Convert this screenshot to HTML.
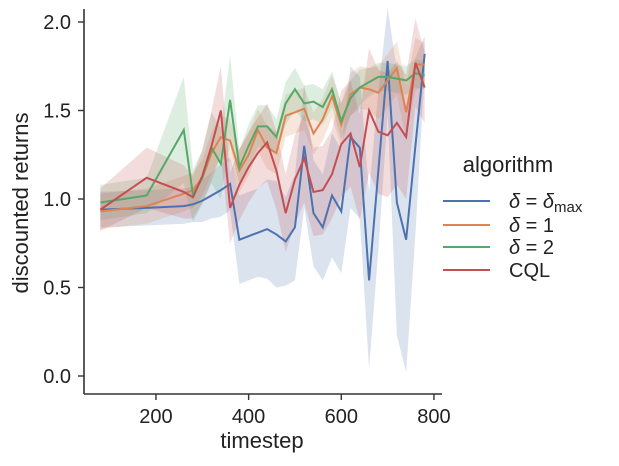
<!DOCTYPE html>
<html><head><meta charset="utf-8"><style>
html,body{margin:0;padding:0;background:#fff;}
svg{display:block;font-family:"Liberation Sans",Arial,sans-serif;}
</style></head><body>
<svg id="chart" width="619" height="466" viewBox="0 0 619 466">
<g id="bands"></g>
<g id="lines"></g>
<g id="axes"></g>
<text x="262" y="448" font-size="22" text-anchor="middle" fill="#222">timestep</text>
<text transform="translate(28,203) rotate(-90)" font-size="22" text-anchor="middle" fill="#222">discounted returns</text>
<g font-size="20" fill="#222">
<text x="508" y="172" text-anchor="middle" font-size="22">algorithm</text>
<g><line x1="443" y1="201" x2="490" y2="201" stroke="#4c72b0" stroke-width="2"/><text x="509" y="208"><tspan font-style="italic">δ</tspan> = <tspan font-style="italic">δ</tspan><tspan font-size="15" dy="4">max</tspan></text></g>
<g><line x1="443" y1="225" x2="490" y2="225" stroke="#dd8452" stroke-width="2"/><text x="509" y="232"><tspan font-style="italic">δ</tspan> = 1</text></g>
<g><line x1="443" y1="247" x2="490" y2="247" stroke="#55a868" stroke-width="2"/><text x="509" y="254"><tspan font-style="italic">δ</tspan> = 2</text></g>
<g><line x1="443" y1="270" x2="490" y2="270" stroke="#c44e52" stroke-width="2"/><text x="509" y="277">CQL</text></g>
</g>
</svg>
<script>
const timesteps=[80,180,260,280,300,320,340,360,380,400,420,440,460,480,500,520,540,560,580,600,620,640,660,680,700,720,740,760,780];
const blueVals=[0.94,0.95,0.96,0.97,0.99,1.02,1.05,1.085,0.77,0.79,0.81,0.83,0.80,0.76,0.84,1.30,0.92,0.84,1.02,0.93,1.35,1.29,0.54,1.16,1.78,0.98,0.77,1.30,1.82];
const blueCi=[0.1,0.1,0.1,0.1,0.12,0.13,0.15,0.15,0.25,0.25,0.25,0.28,0.3,0.25,0.3,0.35,0.3,0.3,0.35,0.35,0.4,0.4,0.5,0.45,0.3,0.75,0.75,0.5,0.1];
const orangeVals=[0.93,0.96,1.03,1.05,1.12,1.26,1.35,1.33,1.16,1.25,1.39,1.29,1.26,1.47,1.49,1.51,1.37,1.45,1.58,1.42,1.59,1.63,1.62,1.60,1.67,1.74,1.49,1.76,1.76];
const orangeCi=[0.1,0.1,0.1,0.1,0.1,0.12,0.12,0.12,0.12,0.12,0.12,0.12,0.12,0.12,0.12,0.12,0.12,0.12,0.12,0.12,0.12,0.12,0.12,0.15,0.15,0.15,0.15,0.15,0.12];
const greenVals=[0.98,1.02,1.39,1.02,1.12,1.29,1.20,1.56,1.18,1.30,1.41,1.41,1.35,1.54,1.62,1.54,1.55,1.52,1.62,1.44,1.57,1.63,1.66,1.69,1.69,1.68,1.67,1.71,1.70];
const greenCi=[0.1,0.1,0.3,0.15,0.15,0.2,0.2,0.25,0.1,0.12,0.12,0.12,0.1,0.12,0.12,0.1,0.1,0.1,0.1,0.1,0.1,0.1,0.08,0.08,0.08,0.08,0.08,0.08,0.08];
const redVals=[0.94,1.12,1.04,1.01,1.13,1.30,1.50,0.95,1.08,1.18,1.26,1.32,1.16,0.92,1.11,1.23,1.04,1.05,1.14,1.31,1.37,1.18,1.50,1.38,1.36,1.43,1.35,1.77,1.63];
const redCi=[0.12,0.17,0.15,0.12,0.15,0.2,0.25,0.2,0.2,0.2,0.2,0.22,0.22,0.22,0.25,0.25,0.25,0.25,0.25,0.3,0.3,0.3,0.35,0.35,0.35,0.35,0.35,0.25,0.2];
const yTicks=[0.0,0.5,1.0,1.5,2.0];
const xTicks=[200,400,600,800];
const yTickLabels=["0.0","0.5","1.0","1.5","2.0"];
const xTickLabels=["200","400","600","800"];

const NS="http://www.w3.org/2000/svg";
function xs(t){return 63.3+0.4633*t;}
function ys(v){return 376-177*v;}
const series=[
 {name:"delta-max",vals:blueVals,ci:blueCi,color:"#4c72b0"},
 {name:"delta-1",vals:orangeVals,ci:orangeCi,color:"#dd8452"},
 {name:"delta-2",vals:greenVals,ci:greenCi,color:"#55a868"},
 {name:"cql",vals:redVals,ci:redCi,color:"#c44e52"}
];
const bands=document.getElementById('bands'),lines=document.getElementById('lines'),axes=document.getElementById('axes');
series.forEach(s=>{
 let up=timesteps.map((t,i)=>xs(t)+","+ys(s.vals[i]+s.ci[i]));
 let lo=timesteps.map((t,i)=>xs(t)+","+ys(s.vals[i]-s.ci[i])).reverse();
 const b=document.createElementNS(NS,'polygon');
 b.setAttribute('points',up.concat(lo).join(' '));
 b.setAttribute('fill',s.color);b.setAttribute('fill-opacity','0.2');
 
 
 bands.appendChild(b);
 const l=document.createElementNS(NS,'polyline');
 l.setAttribute('points',timesteps.map((t,i)=>xs(t)+","+ys(s.vals[i])).join(' '));
 l.setAttribute('fill','none');l.setAttribute('stroke',s.color);l.setAttribute('stroke-width','2');
 
 
 lines.appendChild(l);
});
function mk(tag,attrs,text){const e=document.createElementNS(NS,tag);for(const k in attrs)e.setAttribute(k,attrs[k]);if(text!==undefined)e.textContent=text;axes.appendChild(e);return e;}
const ya=mk('line',{x1:84,y1:9,x2:84,y2:394,stroke:'#333','stroke-width':1.6});


const xa=mk('line',{x1:84,y1:394,x2:442,y2:394,stroke:'#333','stroke-width':1.6});


yTicks.forEach((v,i)=>{
 const tk=mk('line',{x1:78,y1:ys(v),x2:84,y2:ys(v),stroke:'#333','stroke-width':1.4});
 
 
 const tx=mk('text',{x:71,y:ys(v)+7,'text-anchor':'end','font-size':20,fill:'#222'},yTickLabels[i]);
 
 
});
xTicks.forEach((t,i)=>{
 const tk=mk('line',{x1:xs(t),y1:394,x2:xs(t),y2:400,stroke:'#333','stroke-width':1.4});
 
 
 const tx=mk('text',{x:xs(t),y:423,'text-anchor':'middle','font-size':20,fill:'#222'},xTickLabels[i]);
 
 
});
</script>
</body></html>
